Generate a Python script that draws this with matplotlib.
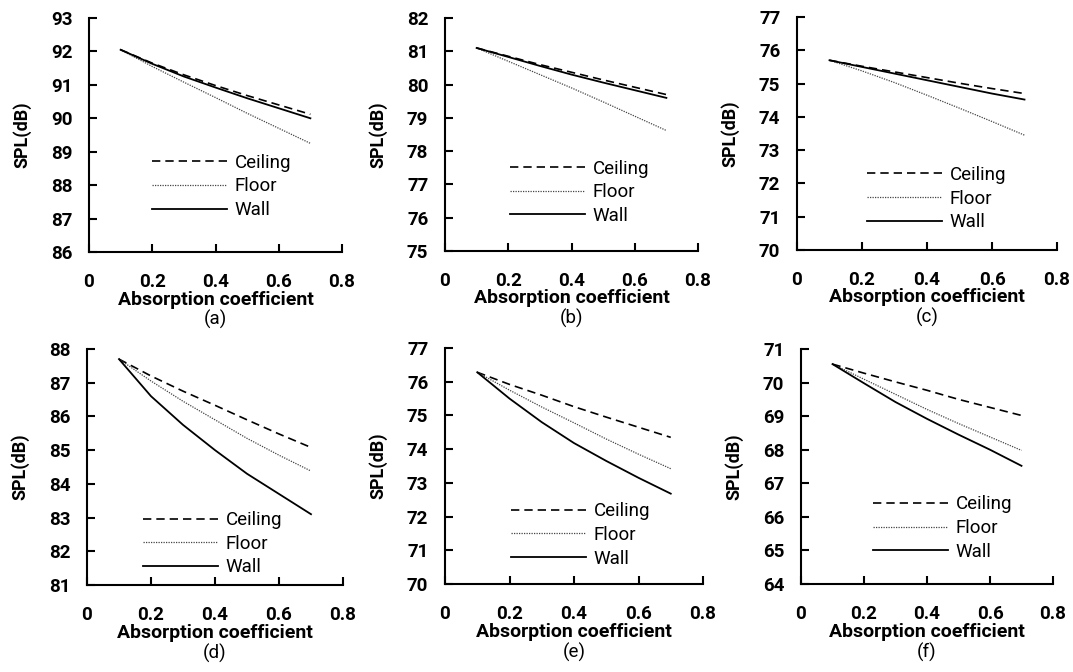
import matplotlib
matplotlib.use("Agg")
import matplotlib.pyplot as plt

plt.rcParams['font.family'] = ['Roboto', 'DejaVu Sans']

# absorption coefficient (x) shared by every panel
absorption = [0.1, 0.2, 0.3, 0.4, 0.5, 0.6, 0.7]

# SPL values (dB)
ceiling_a = [92.05, 91.65, 91.30, 90.98, 90.68, 90.40, 90.12]
floor_a = [92.05, 91.55, 91.08, 90.62, 90.15, 89.70, 89.25]
wall_a = [92.05, 91.63, 91.25, 90.92, 90.60, 90.30, 90.00]

ceiling_b = [81.10, 80.85, 80.60, 80.37, 80.14, 79.92, 79.70]
floor_b = [81.10, 80.70, 80.30, 79.90, 79.48, 79.05, 78.62]
wall_b = [81.10, 80.83, 80.56, 80.30, 80.06, 79.83, 79.60]

ceiling_c = [75.70, 75.52, 75.35, 75.18, 75.01, 74.85, 74.70]
floor_c = [75.70, 75.38, 75.03, 74.65, 74.26, 73.86, 73.45]
wall_c = [75.70, 75.50, 75.30, 75.10, 74.90, 74.70, 74.52]

ceiling_d = [87.70, 87.20, 86.75, 86.33, 85.90, 85.48, 85.08]
floor_d = [87.70, 87.05, 86.45, 85.90, 85.35, 84.85, 84.38]
wall_d = [87.70, 86.60, 85.75, 85.00, 84.30, 83.70, 83.10]

ceiling_e = [76.28, 75.92, 75.60, 75.26, 74.95, 74.65, 74.35]
floor_e = [76.28, 75.75, 75.25, 74.78, 74.30, 73.85, 73.42]
wall_e = [76.28, 75.50, 74.80, 74.18, 73.65, 73.15, 72.68]

ceiling_f = [70.55, 70.28, 70.02, 69.77, 69.50, 69.26, 69.02]
floor_f = [70.55, 70.10, 69.65, 69.20, 68.78, 68.38, 67.98]
wall_f = [70.55, 69.98, 69.42, 68.92, 68.45, 68.00, 67.52]

panel_labels = ['(a)', '(b)', '(c)', '(d)', '(e)', '(f)']
y_ranges = [(86, 93), (75, 82), (70, 77), (81, 88), (70, 77), (64, 71)]
x_ticks = [0, 0.2, 0.4, 0.6, 0.8]
x_ticklabels = ['0', '0.2', '0.4', '0.6', '0.8']

panels = [
    (ceiling_a, floor_a, wall_a),
    (ceiling_b, floor_b, wall_b),
    (ceiling_c, floor_c, wall_c),
    (ceiling_d, floor_d, wall_d),
    (ceiling_e, floor_e, wall_e),
    (ceiling_f, floor_f, wall_f),
]

W, H = 1073, 672
# axes boxes in pixels: left, right, top, bottom
boxes = [
    (89, 342, 18, 252), (445, 698, 18, 251), (797, 1057, 17, 250),
    (87, 343, 349, 585), (445, 703, 348, 584), (801, 1053, 349, 584),
]
# legend anchor (left of handle, middle entry) in axes fraction
legend_pos = [(0.25, 0.28), (0.257, 0.252), (0.27, 0.221),
              (0.22, 0.175), (0.256, 0.208), (0.286, 0.238)]

fig = plt.figure(figsize=(W / 100, H / 100), dpi=100)

for i, (ceil, floor, wall) in enumerate(panels):
    l, r, t, b = boxes[i]
    ax = fig.add_axes([l / W, 1 - b / H, (r - l) / W, (b - t) / H])
    ax.plot(absorption, ceil, color='black', lw=1.2, linestyle=(0, (5, 3)), label='Ceiling')
    ax.plot(absorption, floor, color='#444444', lw=0.9, linestyle=(0, (1, 1)), label='Floor')
    ax.plot(absorption, wall, color='black', lw=1.3, linestyle='-', label='Wall')

    lo, hi = y_ranges[i]
    ax.set_ylim(lo, hi)
    ax.set_yticks(range(lo, hi + 1))
    ax.set_xlim(0, 0.8)
    ax.set_xticks(x_ticks)
    ax.set_xticklabels(x_ticklabels)

    for s in ['top', 'right']:
        ax.spines[s].set_visible(False)
    for s in ['left', 'bottom']:
        ax.spines[s].set_linewidth(1.5)
    ax.tick_params(direction='in', length=6, width=1.5, labelsize=13.5)
    ax.tick_params(axis='x', pad=15)
    ax.tick_params(axis='y', pad=12)
    for lab in ax.get_xticklabels() + ax.get_yticklabels():
        lab.set_fontweight('bold')

    ax.set_ylabel('SPL(dB)', fontsize=13, fontweight='bold')
    ax.yaxis.set_label_coords(-58 / (r - l), 0.5)
    ax.set_xlabel('Absorption coefficient', fontsize=14, fontweight='bold')
    ax.xaxis.set_label_coords(0.5, -0.165)
    ax.text(0.5, -0.29, panel_labels[i], transform=ax.transAxes,
            ha='center', va='center', fontsize=13.5)

    ax.legend(loc='center left', bbox_to_anchor=legend_pos[i], frameon=False,
              fontsize=13.5, handlelength=4.0, handletextpad=0.4,
              borderpad=0, borderaxespad=0, labelspacing=0.3)

fig.savefig('out.png', dpi=100)
